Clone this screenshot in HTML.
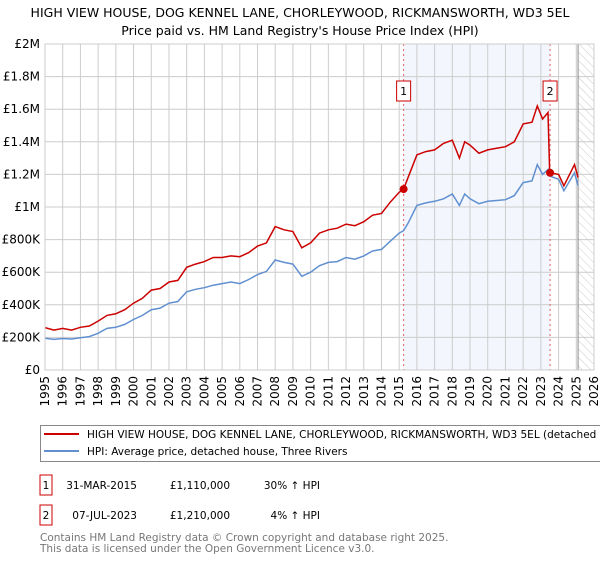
<!DOCTYPE html>
<html><head><meta charset="utf-8"><style>
body{margin:0;background:#fff;width:600px;height:560px;overflow:hidden;font-family:"DejaVu Sans","Liberation Sans",sans-serif}
</style></head><body>
<svg id="chart" width="600" height="560" xmlns="http://www.w3.org/2000/svg" font-family="DejaVu Sans, Liberation Sans, sans-serif">
<text x="300" y="17" text-anchor="middle" font-size="12.5" fill="#000">HIGH VIEW HOUSE, DOG KENNEL LANE, CHORLEYWOOD, RICKMANSWORTH, WD3 5EL</text>
<text x="300" y="35" text-anchor="middle" font-size="12.5" fill="#000">Price paid vs. HM Land Registry's House Price Index (HPI)</text>
<g id="plot"></g>
<g>
<rect x="40.5" y="425.5" width="570" height="36" fill="#fff" stroke="#888"/>
<line x1="44" y1="434" x2="79" y2="434" stroke="#cc0000" stroke-width="2"/>
<text x="87" y="438" font-size="10.5">HIGH VIEW HOUSE, DOG KENNEL LANE, CHORLEYWOOD, RICKMANSWORTH, WD3 5EL (detached house)</text>
<line x1="44" y1="451" x2="79" y2="451" stroke="#6090d0" stroke-width="2"/>
<text x="87" y="455" font-size="10.5">HPI: Average price, detached house, Three Rivers</text>
</g>
<g font-size="10.5">
<rect x="40" y="475" width="12" height="20" fill="#fff" stroke="#cc0000"/>
<text x="46" y="489" text-anchor="middle">1</text>
<text x="137" y="489" text-anchor="end">31-MAR-2015</text>
<text x="230" y="489" text-anchor="end">£1,110,000</text>
<text x="320" y="489" text-anchor="end">30% ↑ HPI</text>
<rect x="40" y="505" width="12" height="20" fill="#fff" stroke="#cc0000"/>
<text x="46" y="519" text-anchor="middle">2</text>
<text x="137" y="519" text-anchor="end">07-JUL-2023</text>
<text x="230" y="519" text-anchor="end">£1,210,000</text>
<text x="320" y="519" text-anchor="end">4% ↑ HPI</text>
</g>
<text x="40" y="541" font-size="10.5" fill="#777">Contains HM Land Registry data © Crown copyright and database right 2025.</text>
<text x="40" y="552" font-size="10.5" fill="#777">This data is licensed under the Open Government Licence v3.0.</text>
</svg>
<script>
const dates=[1995,1995.5,1996,1996.5,1997,1997.5,1998,1998.5,1999,1999.5,2000,2000.5,2001,2001.5,2002,2002.5,2003,2003.5,2004,2004.5,2005,2005.5,2006,2006.5,2007,2007.5,2008,2008.5,2009,2009.5,2010,2010.5,2011,2011.5,2012,2012.5,2013,2013.5,2014,2014.5,2015,2015.25,2015.5,2016,2016.5,2017,2017.5,2018,2018.4,2018.7,2019,2019.5,2020,2020.5,2021,2021.5,2022,2022.5,2022.8,2023.1,2023.4,2023.5,2024,2024.3,2024.9,2025.1];
const hpi=[195,188,193,190,198,205,225,255,262,280,310,335,370,380,410,420,480,495,505,520,530,540,530,555,585,605,675,660,650,575,600,640,660,665,690,680,700,730,740,790,840,855,900,1010,1025,1035,1050,1080,1010,1080,1050,1020,1035,1040,1045,1070,1150,1160,1260,1200,1230,1190,1170,1100,1210,1130];
const price=[260,245,255,245,262,270,300,335,345,370,410,440,490,500,540,550,630,650,665,690,690,700,695,720,760,780,880,860,850,750,780,840,860,870,895,885,910,950,960,1030,1090,1110,1180,1320,1340,1350,1390,1410,1300,1400,1380,1330,1350,1360,1370,1400,1510,1520,1620,1540,1580,1210,1200,1130,1260,1180];
const saleDates=[2015.25,2023.52];
const saleValues=[1110,1210];
const saleLabels=["1","2"];
const yTicks=[0,200,400,600,800,1000,1200,1400,1600,1800,2000];
const yTickLabels=["£0","£200K","£400K","£600K","£800K","£1M","£1.2M","£1.4M","£1.6M","£1.8M","£2M"];
const xTicks=[1995,1996,1997,1998,1999,2000,2001,2002,2003,2004,2005,2006,2007,2008,2009,2010,2011,2012,2013,2014,2015,2016,2017,2018,2019,2020,2021,2022,2023,2024,2025,2026];

const X0=45,X1=594,Y0=370,Y1=44;
const xs=d=>X0+(d-1995)/(2026-1995)*(X1-X0);
const ys=v=>Y0-v/2000*(Y0-Y1);
const NS="http://www.w3.org/2000/svg";
const g=document.getElementById('plot');
function mk(t,a){const e=document.createElementNS(NS,t);for(const k in a)e.setAttribute(k,a[k]);g.appendChild(e);return e;}
// shaded region between sales
let r=mk('rect',{x:xs(saleDates[0]),y:Y1,width:xs(saleDates[1])-xs(saleDates[0]),height:Y0-Y1,fill:'#eef2fc',opacity:0.7});


// hatched future
const defs=document.createElementNS(NS,'defs');defs.innerHTML='<pattern id="hatch" width="6" height="6" patternUnits="userSpaceOnUse" patternTransform="rotate(-45)"><line x1="0" y1="0" x2="0" y2="6" stroke="#ccc" stroke-width="1"/></pattern>';g.appendChild(defs);
const hs=2025.1;
let h=mk('rect',{x:xs(hs),y:Y1,width:X1-xs(hs),height:Y0-Y1,fill:'url(#hatch)'});


// grid
yTicks.forEach((v,i)=>{
 let l=mk('line',{x1:X0,x2:X1,y1:ys(v),y2:ys(v),stroke:'#ccc','stroke-width':1});
 
 
 let t=mk('text',{x:X0-5,y:ys(v)+4,'text-anchor':'end','font-size':12,fill:'#000'});t.textContent=yTickLabels[i];
 
 
});
xTicks.forEach(d=>{
 let l=mk('line',{x1:xs(d),x2:xs(d),y1:Y1,y2:Y0,stroke:'#ccc','stroke-width':1});
 
 
 let t=mk('text',{x:0,y:0,'text-anchor':'end','font-size':12,fill:'#000',transform:`translate(${xs(d)+4},${Y0+6}) rotate(-90)`});t.textContent=d;
 
 
});
let vl=mk('line',{x1:xs(hs),x2:xs(hs),y1:Y1,y2:Y0,stroke:'#888','stroke-width':1});


// sale markers lines
saleDates.forEach((d,i)=>{
 let l=mk('line',{x1:xs(d),x2:xs(d),y1:Y1,y2:Y0,stroke:'#e06060','stroke-width':1,'stroke-dasharray':'2,3'});
 
 
 let b=mk('rect',{x:xs(d)-7,y:81,width:14,height:20,fill:'#fff',stroke:'#cc0000'});
 
 
 let t=mk('text',{x:xs(d),y:95,'text-anchor':'middle','font-size':11});t.textContent=saleLabels[i];
 
 
});
const pts=arr=>dates.map((d,i)=>xs(d).toFixed(1)+','+ys(arr[i]).toFixed(1)).join(' ');
let hl=mk('polyline',{points:pts(hpi),fill:'none',stroke:'#6090d0','stroke-width':1.5});


let pl=mk('polyline',{points:pts(price),fill:'none',stroke:'#cc0000','stroke-width':1.5});


saleDates.forEach((d,i)=>{
 let c=mk('circle',{cx:xs(d),cy:ys(saleValues[i]),r:4,fill:'#cc0000'});
 
 
});
let ax=mk('rect',{x:X0,y:Y1,width:X1-X0,height:Y0-Y1,fill:'none',stroke:'#ccc'});


</script>
</body></html>
